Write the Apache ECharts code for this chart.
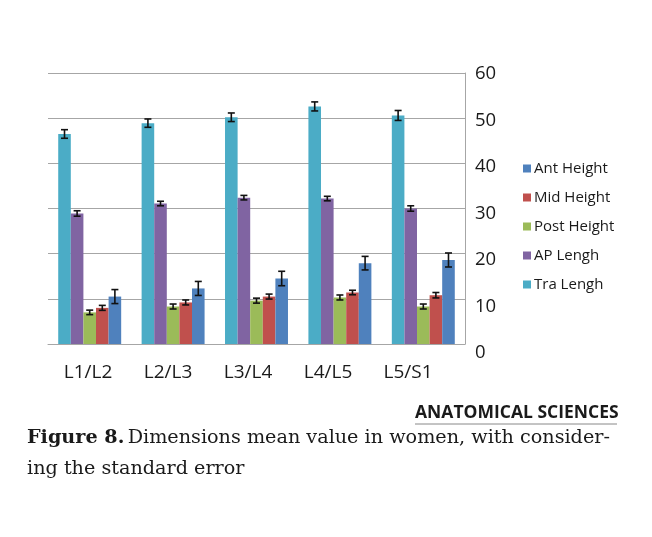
<!DOCTYPE html>
<html>
<head>
<meta charset="utf-8">
<script src="https://cdn.jsdelivr.net/npm/echarts@6/dist/echarts.min.js"></script>
<style>
html,body{margin:0;padding:0;background:#fff;}
#c{width:652px;height:537px;}
</style>
</head>
<body>
<div id="c"></div>
<script>
const categories = ['L1/L2', 'L2/L3', 'L3/L4', 'L4/L5', 'L5/S1'];
const seriesNames = ['Tra Lengh', 'AP Lengh', 'Post Height', 'Mid Height', 'Ant Height'];
const legendOrder = ['Ant Height', 'Mid Height', 'Post Height', 'AP Lengh', 'Tra Lengh'];
const traLengh   = [46.5, 48.9, 50.2, 52.6, 50.6];
const apLengh    = [28.9, 31.1, 32.4, 32.2, 30.0];
const postHeight = [7.0, 8.3, 9.6, 10.3, 8.3];
const midHeight  = [8.0, 9.2, 10.5, 11.4, 10.8];
const antHeight  = [10.5, 12.3, 14.5, 17.9, 18.6];
const traErr  = [0.95, 0.92, 0.95, 1.0, 1.1];
const apErr   = [0.6, 0.5, 0.5, 0.5, 0.6];
const postErr = [0.5, 0.55, 0.55, 0.55, 0.55];
const midErr  = [0.55, 0.55, 0.55, 0.5, 0.6];
const antErr  = [1.55, 1.55, 1.6, 1.5, 1.55];
const yTicks = [0, 10, 20, 30, 40, 50, 60];

const values = [traLengh, apLengh, postHeight, midHeight, antHeight];
const errors = [traErr, apErr, postErr, midErr, antErr];
const colors = ['#4BACC6', '#8064A2', '#9BBB59', '#C0504D', '#4F81BD'];
const catGap = 0.245;
const nSeries = values.length;

const chart = echarts.init(document.getElementById('c'), null, {renderer: 'canvas'});

const series = [];
values.forEach((vals, k) => {
  series.push({
    name: seriesNames[k], type: 'bar', xAxisIndex: 0, yAxisIndex: 0, z: 2,
    data: vals, barGap: '0%', barCategoryGap: (catGap * 100) + '%',
    itemStyle: {color: colors[k]}, animation: false
  });
});
values.forEach((vals, k) => {
  series.push({
    type: 'custom', xAxisIndex: 0, yAxisIndex: 0, animation: false, silent: true, z: 5,
    data: vals.map((v, i) => [i, v - errors[k][i], v + errors[k][i]]),
    renderItem: function (params, api) {
      const ci = api.value(0);
      const lo = api.coord([ci, api.value(1)]);
      const hi = api.coord([ci, api.value(2)]);
      const band = api.size([1, 0])[0];
      const group = band * (1 - catGap);
      const bw = group / nSeries;
      const x = lo[0] - group / 2 + bw * (k + 0.5);
      const cap = 3.5;
      const st = {stroke: '#111', lineWidth: 1.6};
      return {type: 'group', children: [
        {type: 'line', shape: {x1: x, y1: lo[1], x2: x, y2: hi[1]}, style: st},
        {type: 'line', shape: {x1: x - cap, y1: lo[1], x2: x + cap, y2: lo[1]}, style: st},
        {type: 'line', shape: {x1: x - cap, y1: hi[1], x2: x + cap, y2: hi[1]}, style: st}
      ]};
    }
  });
});

const option = {
  backgroundColor: '#fff',
  animation: false,
  grid: [
    {left: 48, right: 187, top: 73, bottom: 193},
    {left: 48, width: 400, top: 73, bottom: 193},
    {left: 48, right: 187, top: 74, bottom: 184}
  ],
  legend: {
    orient: 'vertical', left: 518, top: 156,
    data: legendOrder, icon: 'rect', itemWidth: 8, itemHeight: 8, itemGap: 14,
    textStyle: {fontFamily: 'Open Sans', fontSize: 15, color: '#1a1a1a', padding: [0, 0, 0, -2]},
    selectedMode: false
  },
  xAxis: [
    {type: 'category', gridIndex: 0, data: categories,
     axisLine: {lineStyle: {color: '#a6a6a6', width: 1}}, axisTick: {show: false}, axisLabel: {show: false}},
    {type: 'category', gridIndex: 1, data: categories,
     axisLine: {show: false}, axisTick: {show: false},
     axisLabel: {margin: 19, fontFamily: 'Open Sans', fontSize: 19, color: '#1a1a1a'}},
    {type: 'category', gridIndex: 2, data: categories, show: false}
  ],
  yAxis: [
    {type: 'value', gridIndex: 0, min: 0, max: 60, interval: 10, position: 'right',
     axisLine: {show: true, lineStyle: {color: '#a6a6a6', width: 1}}, axisTick: {show: false},
     axisLabel: {show: false}, splitLine: {lineStyle: {color: '#a6a6a6', width: 1}}},
    {type: 'value', gridIndex: 1, min: 0, max: 60, show: false},
    {type: 'value', gridIndex: 2, min: yTicks[0], max: yTicks[yTicks.length - 1], interval: 10, position: 'right',
     axisLine: {show: false}, axisTick: {show: false}, splitLine: {show: false},
     axisLabel: {margin: 10, fontFamily: 'Open Sans', fontSize: 18.5, color: '#1a1a1a'}}
  ],
  series: series,
  graphic: [
    {type: 'text', left: 415, top: 404, style: {text: 'ANATOMICAL SCIENCES', fontFamily: 'Open Sans', fontWeight: 'bold', fontSize: 17.5, fill: '#1a1a1a'}},
    {type: 'line', shape: {x1: 415, y1: 424, x2: 617, y2: 424}, style: {stroke: '#888', lineWidth: 1}},
    {type: 'text', left: 27, top: 429, style: {
      rich: {b: {fontFamily: 'DejaVu Serif', fontWeight: 'bold', fontSize: 19.2, fill: '#1a1a1a'},
             n: {fontFamily: 'DejaVu Serif', fontSize: 19.2, fill: '#1a1a1a'}},
      text: '{b|Figure 8.} {n|Dimensions mean value in women, with consider-}'}},
    {type: 'text', left: 27, top: 460, style: {text: 'ing the standard error', fontFamily: 'DejaVu Serif', fontSize: 19.2, fill: '#1a1a1a'}}
  ]
};
chart.setOption(option);
</script>
</body>
</html>
